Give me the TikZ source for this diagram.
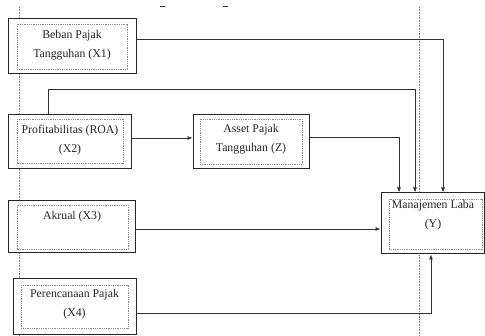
\documentclass[tikz,border=0pt]{standalone}
\usepackage{fontspec}
\setmainfont{Liberation Serif}
\usetikzlibrary{arrows.meta}

\begin{document}
\begin{tikzpicture}[x=1pt,y=-1pt,
    varbox/.style={draw=black!85,line width=1pt,fill=white,inner sep=0pt},
    innerline/.style={draw=black!45,dash pattern=on 1pt off .8pt,line width=.5pt},
    vartext/.style={font=\fontsize{11.8}{19}\selectfont,align=center,inner sep=0pt,anchor=north,text=black!85},
    link/.style={draw=black!80,line width=.7pt,-{Latex[length=5pt,width=4pt]}},
    guide/.style={draw=black!50,dash pattern=on .8pt off .8pt,line width=.5pt}]
      \useasboundingbox (0,0) rectangle (485,336);
      % guide lines
      \draw[guide] (19,7) -- (19,336);
      \draw[guide] (419,7) -- (419,336);
      \draw[black!80,line width=.8pt] (160,6) -- (165,6) (223,6) -- (228,6);
      % variable boxes
      \node[varbox,minimum width=128,minimum height=55] (x1) at (72,46.5) {};
      \draw[innerline] (17,24) rectangle (127,69);
      \node[vartext] (x1t) at (72,30.5) {Beban Pajak\\Tangguhan (X1)};
      \node[varbox,minimum width=123,minimum height=54] (x2) at (69.5,142) {};
      \draw[innerline] (17,119) rectangle (123,163);
      \node[vartext] (x2t) at (70,124.5) {Profitabilitas (ROA)\\(X2)};
      \node[varbox,minimum width=116,minimum height=54] (z) at (251,142) {};
      \draw[innerline] (200,119) rectangle (302,164);
      \node[vartext] (zt) at (251,124.5) {Asset Pajak\\Tangguhan (Z)};
      \node[varbox,minimum width=127,minimum height=52] (x3) at (71.5,227) {};
      \draw[innerline] (17,205) rectangle (128,249);
      \node[vartext] (x3t) at (72,211.5) {Akrual (X3)};
      \node[varbox,minimum width=123,minimum height=56] (x4) at (74.5,307) {};
      \draw[innerline] (21,285) rectangle (128,328);
      \node[vartext] (x4t) at (74.5,289) {Perencanaan Pajak\\(X4)};
      \node[varbox,minimum width=103,minimum height=61] (y) at (432.5,223.5) {};
      \draw[innerline] (389,199) rectangle (482,249);
      \node[vartext] (yt) at (433,200) {Manajemen Laba\\(Y)};
      % connectors
      \draw[link] ([yshift=7.5]x1.east) -| ([xshift=10.5]y.north);
      \draw[link] ([xshift=-21.5]x2.north) -- ++(0,-25) -| ([xshift=-17.5]y.north);
      \draw[link] ([yshift=4]x2.east) -- ([yshift=4]z.west);
      \draw[link] ([yshift=5]z.east) -| ([xshift=-33.5]y.north);
      \draw[link] ([yshift=-2]x3.east) -- ([yshift=-5.5]y.west);
      \draw[link] ([yshift=-6]x4.east) -| ([xshift=-1.5]y.south);
    \end{tikzpicture}
\end{document}
